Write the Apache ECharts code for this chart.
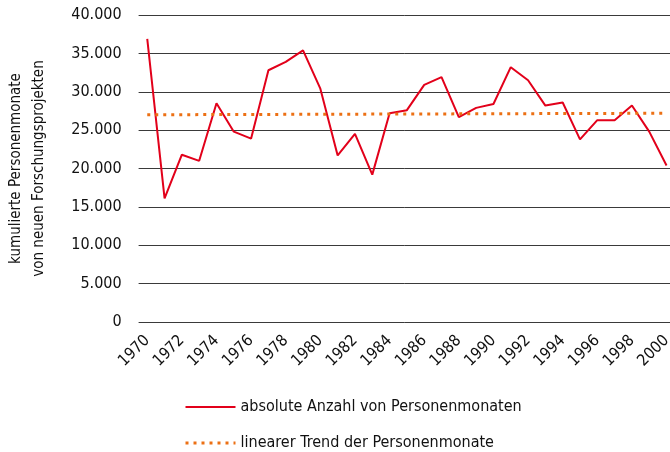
<!DOCTYPE html>
<html><head><meta charset="utf-8">
<script src="https://cdn.jsdelivr.net/npm/echarts@6/dist/echarts.min.js"></script>
<style>html,body{margin:0;padding:0;background:#fff}#c{width:670px;height:452px}</style>
</head><body><div id="c"></div>
<script>
const years = ["1970","1971","1972","1973","1974","1975","1976","1977","1978","1979","1980","1981","1982","1983","1984","1985","1986","1987","1988","1989","1990","1991","1992","1993","1994","1995","1996","1997","1998","1999","2000"];
const absoluteValues = [36900,16100,21800,21000,28500,24800,23900,32800,33900,35400,30400,21700,24500,19200,27200,27600,30900,31900,26700,27900,28400,33200,31500,28200,28600,23800,26300,26300,28200,24800,20400];
const trendStart = 27000;
const trendEnd = 27200;
const seriesNames = ["absolute Anzahl von Personenmonaten","linearer Trend der Personenmonate"];
const yAxisTitle = "kumulierte Personenmonate\nvon neuen Forschungsprojekten";

const trendData = years.map((y,i)=> i===0 ? trendStart : (i===years.length-1 ? trendEnd : null));
const FONT = "'DejaVu Sans Condensed','Liberation Sans Narrow',sans-serif";
const fmt = v => String(v).replace(/\B(?=(\d{3})+(?!\d))/g,'.');

const chart = echarts.init(document.getElementById('c'), null, {renderer:'canvas'});
chart.setOption({
  animation:false,
  backgroundColor:'#fff',
  textStyle:{fontFamily:FONT},
  grid:{left:138.6, top:15, width:536.6, height:307, containLabel:false, outerBoundsMode:'none'},
  xAxis:{
    type:'category', data:years, boundaryGap:true,
    axisLine:{show:false}, axisTick:{show:false},
    axisLabel:{interval:1, rotate:45, fontSize:16, color:'#111', fontFamily:FONT, margin:16}
  },
  yAxis:{
    type:'value', min:0, max:40000, interval:5000,
    name:yAxisTitle, nameLocation:'middle', nameGap:88, nameRotate:90,
    nameTextStyle:{fontSize:15, color:'#111', fontFamily:FONT, lineHeight:23},
    axisLine:{show:false}, axisTick:{show:false},
    axisLabel:{formatter:fmt, fontSize:16, color:'#111', fontFamily:FONT, margin:17},
    splitLine:{lineStyle:{color:'#3a3a3a', width:1}}
  },
  legend:{
    orient:'vertical', left:184, top:399, height:60, padding:0, itemWidth:50, itemHeight:14, itemGap:20,
    itemStyle:{opacity:0},
    textStyle:{fontSize:16, color:'#111', fontFamily:FONT, lineHeight:16},
    data:[
      {name:seriesNames[0], lineStyle:{color:'#e2001a', width:2}},
      {name:seriesNames[1], lineStyle:{color:'#ec7014', width:3, type:[3,5]}}
    ]
  },
  series:[
    {name:seriesNames[0], type:'line', data:absoluteValues, symbol:'none',
     lineStyle:{color:'#e2001a', width:2}, itemStyle:{color:'#e2001a'}},
    {name:seriesNames[1], type:'line', data:trendData, connectNulls:true, symbol:'none',
     lineStyle:{color:'#ec7014', width:3, type:[3,5]}, itemStyle:{color:'#ec7014'}, z:3}
  ]
});
</script></body></html>
